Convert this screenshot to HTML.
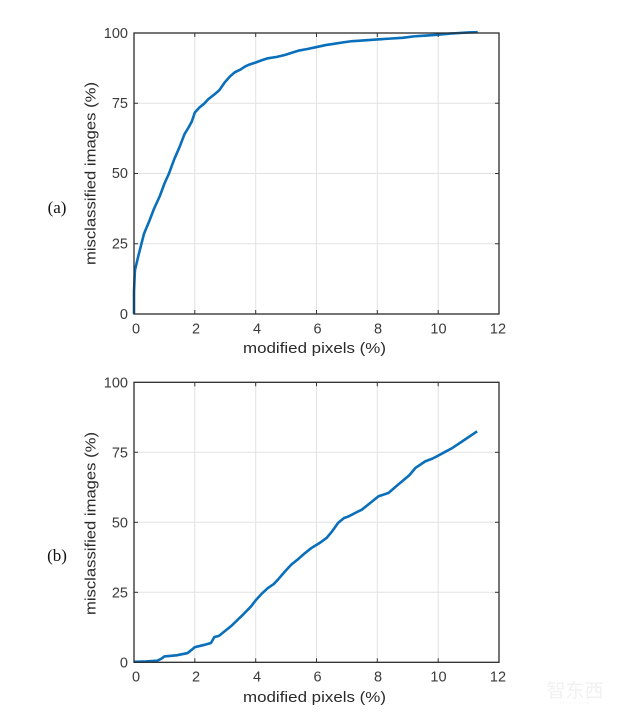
<!DOCTYPE html>
<html><head><meta charset="utf-8"><style>
html,body{margin:0;padding:0;background:#fff;}
svg{display:block;}
.t{font-family:"Liberation Sans",Arial,sans-serif;font-size:14.5px;fill:#3a3a3a;}
.lab{font-family:"Liberation Sans",Arial,sans-serif;font-size:15px;fill:#2a2a2a;}
.cap{font-family:"Liberation Serif","Times New Roman",serif;font-size:17px;fill:#111;}
.grid line{stroke:#e2e2e2;stroke-width:1;}
.tick line{stroke:#333;stroke-width:1;}
</style></head><body>
<svg width="640" height="719" viewBox="0 0 640 719" xmlns="http://www.w3.org/2000/svg">
<rect width="640" height="719" fill="#fff"/>

<!-- ===== Plot (a) ===== -->
<g class="grid">
 <line x1="194.8" y1="33" x2="194.8" y2="314"/>
 <line x1="255.7" y1="33" x2="255.7" y2="314"/>
 <line x1="316.5" y1="33" x2="316.5" y2="314"/>
 <line x1="377.3" y1="33" x2="377.3" y2="314"/>
 <line x1="438.2" y1="33" x2="438.2" y2="314"/>
 <line x1="134" y1="103.25" x2="499" y2="103.25"/>
 <line x1="134" y1="173.5" x2="499" y2="173.5"/>
 <line x1="134" y1="243.75" x2="499" y2="243.75"/>
</g>
<polyline fill="none" stroke="#0a6fbb" stroke-width="2.6" stroke-linejoin="round"
 transform="translate(134,314) scale(30.42,-2.81)" vector-effect="non-scaling-stroke"
 points="0,0 0,8 0.03,15.5 0.15,21 0.33,28.6 0.5,33 0.66,37.5 0.85,42 1.0,46.4 1.15,50 1.32,55 1.5,59.5 1.66,64 1.8,66.5 1.9,68.5 2.0,71.7 2.15,73.5 2.3,74.8 2.45,76.5 2.65,78.2 2.8,79.6 2.98,82.4 3.15,84.5 3.31,86 3.5,87 3.64,88 3.8,88.8 4.0,89.5 4.2,90.3 4.4,91 4.7,91.5 4.97,92.2 5.2,93 5.4,93.7 5.7,94.3 6.0,95 6.3,95.7 6.6,96.2 6.9,96.7 7.17,97.1 7.6,97.4 8.0,97.7 8.4,98 8.83,98.3 9.2,98.8 9.6,99.1 10.0,99.4 10.4,99.8 10.7,100 11.0,100.2 11.3,100.3"/>
<rect x="134" y="33" width="365" height="281" fill="none" stroke="#2b2b2b" stroke-width="1.3"/>
<g class="tick">
 <line x1="194.8" y1="314" x2="194.8" y2="310"/><line x1="255.7" y1="314" x2="255.7" y2="310"/>
 <line x1="316.5" y1="314" x2="316.5" y2="310"/><line x1="377.3" y1="314" x2="377.3" y2="310"/>
 <line x1="438.2" y1="314" x2="438.2" y2="310"/>
 <line x1="194.8" y1="33" x2="194.8" y2="37"/><line x1="255.7" y1="33" x2="255.7" y2="37"/>
 <line x1="316.5" y1="33" x2="316.5" y2="37"/><line x1="377.3" y1="33" x2="377.3" y2="37"/>
 <line x1="438.2" y1="33" x2="438.2" y2="37"/>
 <line x1="134" y1="103.25" x2="138" y2="103.25"/><line x1="134" y1="173.5" x2="138" y2="173.5"/>
 <line x1="134" y1="243.75" x2="138" y2="243.75"/>
 <line x1="499" y1="103.25" x2="495" y2="103.25"/><line x1="499" y1="173.5" x2="495" y2="173.5"/>
 <line x1="499" y1="243.75" x2="495" y2="243.75"/>
</g>
<g class="t" text-anchor="middle">
 <text x="136" y="333.5">0</text><text x="196" y="333.5">2</text><text x="257" y="333.5">4</text>
 <text x="317.5" y="333.5">6</text><text x="378" y="333.5">8</text><text x="438.5" y="333.5">10</text>
 <text x="498" y="333.5">12</text>
</g>
<g class="t" text-anchor="end">
 <text x="128" y="38">100</text><text x="128" y="108">75</text><text x="128" y="178">50</text>
 <text x="128" y="248.5">25</text><text x="128" y="319">0</text>
</g>
<text class="lab" x="243" y="353" textLength="143" lengthAdjust="spacingAndGlyphs">modified pixels (%)</text>
<text class="lab" transform="translate(95.5,173.5) rotate(-90)" text-anchor="middle" textLength="183" lengthAdjust="spacingAndGlyphs">misclassified images (%)</text>
<text class="cap" x="57" y="213" text-anchor="middle">(a)</text>

<!-- ===== Plot (b) ===== -->
<g class="grid">
 <line x1="194.8" y1="382.3" x2="194.8" y2="662.3"/>
 <line x1="255.7" y1="382.3" x2="255.7" y2="662.3"/>
 <line x1="316.5" y1="382.3" x2="316.5" y2="662.3"/>
 <line x1="377.3" y1="382.3" x2="377.3" y2="662.3"/>
 <line x1="438.2" y1="382.3" x2="438.2" y2="662.3"/>
 <line x1="134" y1="452.3" x2="499" y2="452.3"/>
 <line x1="134" y1="522.3" x2="499" y2="522.3"/>
 <line x1="134" y1="592.3" x2="499" y2="592.3"/>
</g>
<polyline fill="none" stroke="#0a6fbb" stroke-width="2.6" stroke-linejoin="round"
 transform="translate(134,662.3) scale(30.42,-2.8)" vector-effect="non-scaling-stroke"
 points="0,0.2 0.4,0.3 0.77,0.6 0.9,1.3 1.0,2.1 1.4,2.5 1.76,3.3 1.9,4.5 2.0,5.4 2.3,6.2 2.53,6.9 2.64,9.0 2.8,9.5 2.97,11 3.2,13 3.41,15.2 3.6,17.2 3.85,20 4.02,22.4 4.2,24.5 4.4,26.5 4.6,28 4.73,29.5 4.95,32.3 5.17,34.9 5.4,36.9 5.6,38.8 5.83,40.8 6.1,42.6 6.33,44.4 6.5,46.6 6.71,49.8 6.9,51.5 7.05,52.1 7.3,53.5 7.49,54.5 7.8,57.2 8.04,59.3 8.37,60.5 8.6,62.7 8.81,64.6 9.05,66.8 9.25,69.4 9.58,71.8 9.8,72.7 10.0,73.8 10.2,75 10.46,76.5 10.79,78.9 11.05,80.8 11.28,82.5"/>
<rect x="134" y="382.3" width="365" height="280" fill="none" stroke="#2b2b2b" stroke-width="1.3"/>
<g class="tick">
 <line x1="194.8" y1="662.3" x2="194.8" y2="658.3"/><line x1="255.7" y1="662.3" x2="255.7" y2="658.3"/>
 <line x1="316.5" y1="662.3" x2="316.5" y2="658.3"/><line x1="377.3" y1="662.3" x2="377.3" y2="658.3"/>
 <line x1="438.2" y1="662.3" x2="438.2" y2="658.3"/>
 <line x1="194.8" y1="382.3" x2="194.8" y2="386.3"/><line x1="255.7" y1="382.3" x2="255.7" y2="386.3"/>
 <line x1="316.5" y1="382.3" x2="316.5" y2="386.3"/><line x1="377.3" y1="382.3" x2="377.3" y2="386.3"/>
 <line x1="438.2" y1="382.3" x2="438.2" y2="386.3"/>
 <line x1="134" y1="452.3" x2="138" y2="452.3"/><line x1="134" y1="522.3" x2="138" y2="522.3"/>
 <line x1="134" y1="592.3" x2="138" y2="592.3"/>
 <line x1="499" y1="452.3" x2="495" y2="452.3"/><line x1="499" y1="522.3" x2="495" y2="522.3"/>
 <line x1="499" y1="592.3" x2="495" y2="592.3"/>
</g>
<g class="t" text-anchor="middle">
 <text x="136" y="681.5">0</text><text x="196" y="681.5">2</text><text x="257" y="681.5">4</text>
 <text x="317.5" y="681.5">6</text><text x="378" y="681.5">8</text><text x="438.5" y="681.5">10</text>
 <text x="498" y="681.5">12</text>
</g>
<g class="t" text-anchor="end">
 <text x="128" y="387.5">100</text><text x="128" y="457.3">75</text><text x="128" y="527.3">50</text>
 <text x="128" y="597.3">25</text><text x="128" y="667.3">0</text>
</g>
<text class="lab" x="243" y="702" textLength="143" lengthAdjust="spacingAndGlyphs">modified pixels (%)</text>
<text class="lab" transform="translate(95.5,523.5) rotate(-90)" text-anchor="middle" textLength="183" lengthAdjust="spacingAndGlyphs">misclassified images (%)</text>
<text class="cap" x="57" y="561" text-anchor="middle">(b)</text>

<!-- watermark -->
<text x="575" y="697" text-anchor="middle" style="font-family:'Noto Sans CJK SC',sans-serif;font-size:19px;fill:#f1f1f1;">智东西</text>
<text x="575" y="704" text-anchor="middle" style="font-family:'Liberation Sans',sans-serif;font-size:4px;fill:#f3f3f3;letter-spacing:1.5px;">zhidx.com</text>
</svg>
</body></html>
